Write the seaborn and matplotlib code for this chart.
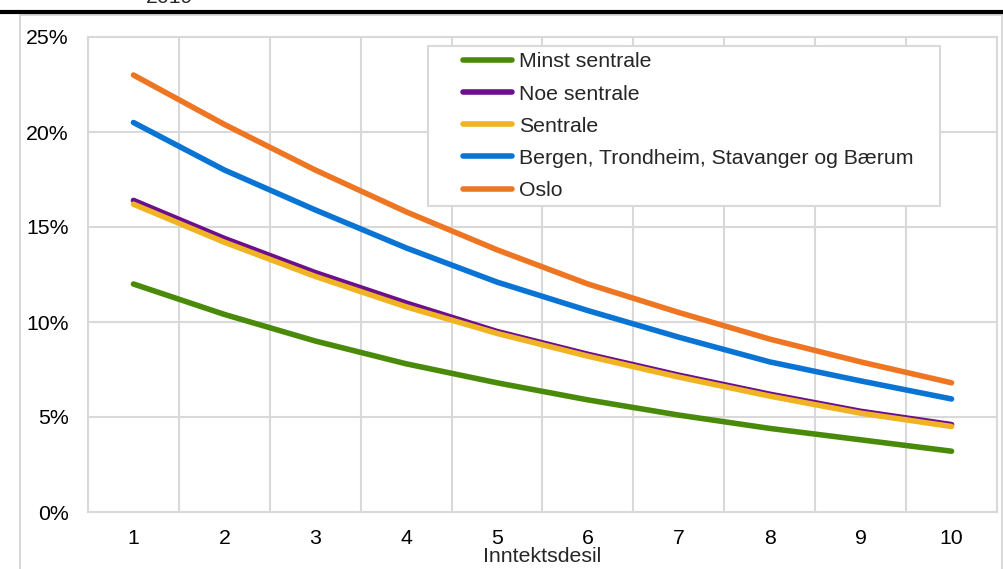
import numpy as np
import pandas as pd
import matplotlib
matplotlib.use("Agg")
import matplotlib.pyplot as plt
import seaborn as sns
from matplotlib.lines import Line2D
from matplotlib.patches import Rectangle
from matplotlib.legend_handler import HandlerBase

deciles = [1, 2, 3, 4, 5, 6, 7, 8, 9, 10]
minst_sentrale = [12.0, 10.4, 9.0, 7.8, 6.8, 5.9, 5.1, 4.4, 3.8, 3.2]
noe_sentrale = [16.4, 14.4, 12.6, 11.0, 9.5, 8.3, 7.2, 6.2, 5.3, 4.6]
sentrale = [16.2, 14.2, 12.4, 10.8, 9.4, 8.2, 7.1, 6.1, 5.2, 4.5]
storbyer = [20.5, 18.0, 15.9, 13.9, 12.1, 10.6, 9.2, 7.9, 6.9, 5.95]
oslo = [23.0, 20.4, 18.0, 15.8, 13.8, 12.0, 10.5, 9.1, 7.9, 6.8]

series_names = ["Minst sentrale", "Noe sentrale", "Sentrale",
                "Bergen, Trondheim, Stavanger og Bærum", "Oslo"]
series_values = [minst_sentrale, noe_sentrale, sentrale, storbyer, oslo]
colors = ["#4a8a0a", "#6b0f8c", "#f0b323", "#0a74d4", "#ee7623"]
y_ticks = [0, 5, 10, 15, 20, 25]
x_label = "Inntektsdesil"
title_text = "2019"

FS = 15.3
LW = 4.0
W, H = 1004, 569

rows = []
for name, vals in zip(series_names, series_values):
    for d, v in zip(deciles, vals):
        rows.append({"Inntektsdesil": d, "Andel": v, "Gruppe": name})
df = pd.DataFrame(rows)

sns.set_theme(style="white")
plt.rcParams["font.family"] = ["Liberation Sans", "DejaVu Sans"]

fig = plt.figure(figsize=(W/100, H/100), dpi=100)
ax = fig.add_axes([88/W, 1-512/H, (997-88)/W, (512-37)/H])

sns.lineplot(data=df, x="Inntektsdesil", y="Andel", hue="Gruppe",
             hue_order=series_names, palette=colors, linewidth=LW,
             ax=ax, legend=False)
for line in ax.lines:
    line.set_solid_capstyle("round")
    line.set_solid_joinstyle("round")

ax.set_xlim(0.5, 10.5)
ax.set_ylim(0, 25)
ax.set_xticks(deciles)
ax.set_xticklabels([str(d) for d in deciles])
ax.set_xticks(np.arange(0.5, 11, 1), minor=True)
ax.set_yticks(y_ticks)
ax.set_yticklabels([f"{t}%" for t in y_ticks])
ax.grid(False)
ax.grid(True, which="minor", axis="x", color="#d9d9d9", linewidth=1.5)
ax.grid(True, which="major", axis="y", color="#d9d9d9", linewidth=1.5)
ax.set_axisbelow(True)
ax.tick_params(axis="both", which="both", length=0, labelsize=FS, colors="black")
ax.tick_params(axis="x", pad=12)
ax.tick_params(axis="y", pad=14)
for s in ax.spines.values():
    s.set_color("#d9d9d9")
    s.set_linewidth(1.5)
ax.set_xlabel(x_label, fontsize=FS)
ax.xaxis.set_label_coords(0.5, (512-556)/475)
ax.xaxis.label.set_va("center")
ax.set_ylabel("")


class OffsetLineHandler(HandlerBase):
    def __init__(self, start_frac=0.31, **kw):
        super().__init__(**kw)
        self.start_frac = start_frac

    def create_artists(self, legend, orig_handle, xdescent, ydescent,
                       width, height, fontsize, trans):
        y = height / 2 - ydescent
        x0 = width * self.start_frac - xdescent + 2.5
        x1 = width - xdescent - 2.5
        ln = Line2D([x0, x1], [y, y], color=orig_handle.get_color(),
                    linewidth=orig_handle.get_linewidth(),
                    solid_capstyle="round", transform=trans)
        return [ln]


handles = [Line2D([0], [0], color=c, linewidth=LW) for c in colors]
leg = ax.legend(handles, series_names, loc="upper left",
                bbox_to_anchor=(428/W, 1-206/H, (940-428)/W, 160/H),
                bbox_transform=fig.transFigure, mode="expand",
                handler_map={Line2D: OffsetLineHandler()},
                frameon=True, fancybox=False, fontsize=FS, handlelength=3.8,
                handletextpad=0.2, labelspacing=0.62, borderpad=0.3,
                borderaxespad=0)
leg.get_frame().set_edgecolor("#d9d9d9")
leg.get_frame().set_linewidth(1.5)
leg.get_frame().set_facecolor("white")
leg.get_frame().set_alpha(1)

# outer chart border and top rule
fig.add_artist(Rectangle((20/W, -0.05), (1002-20)/W, 1.05-15/H,
                         transform=fig.transFigure, fill=False,
                         edgecolor="#d9d9d9", linewidth=1.5))
fig.add_artist(Line2D([0, 1], [1-12/H, 1-12/H], transform=fig.transFigure,
                      color="black", linewidth=3))
fig.text(170/W, 1-3/H, title_text, ha="center", va="baseline", fontsize=FS)

fig.savefig("out.png", dpi=100)
